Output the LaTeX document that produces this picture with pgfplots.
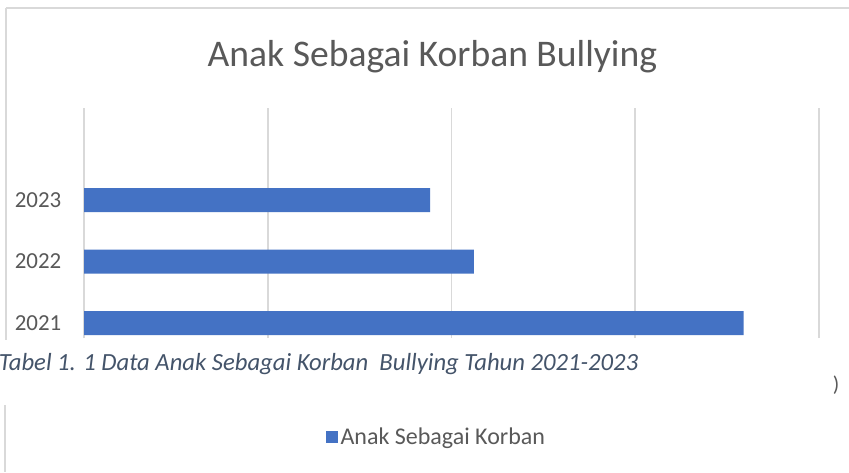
\documentclass[border=0pt]{standalone}
\usepackage{fontspec}
\setmainfont{Carlito}
\usepackage{pgfplots}
\pgfplotsset{compat=1.18}
\definecolor{barblue}{HTML}{4472C4}
\definecolor{gridgray}{HTML}{D9D9D9}
\definecolor{txtgray}{HTML}{595959}
\definecolor{capblue}{HTML}{44546A}
\begin{document}
\begin{tikzpicture}[x=1pt,y=1pt]
\path[use as bounding box] (0,0) rectangle (636.75,-354);
\fill[white] (0,0) rectangle (636.75,-354);
% chart frame remnants
\draw[gridgray,line width=1.2pt] (4.5,-6) -- (636.75,-6);
\draw[gridgray,line width=1.2pt] (4.5,-6) -- (4.5,-255);
\draw[gridgray,line width=1.2pt] (3.8,-304) -- (3.8,-354);
\begin{axis}[
  at={(63pt,-253.5pt)}, anchor=south west,
  scale only axis, width=551.25pt, height=172.5pt,
  xbar, bar width=18pt,
  xmin=0, xmax=200, xtick={0,50,100,150,200}, xticklabels={},
  ymin=-0.244, ymax=3.5,
  ytick={0,1,2}, yticklabels={2021,2022,2023},
  yticklabel style={font=\fontsize{17.2}{19}\selectfont, text=txtgray, xshift=-13.5pt},
  major tick length=0pt,
  axis line style={draw=none},
  xmajorgrids, grid style={gridgray, line width=1.3pt},
  legend style={at={(0.48,-0.43)}, anchor=center, draw=none, fill=none,
    font=\fontsize{18}{20}\selectfont, text=txtgray},
  legend image code/.code={\fill[barblue] (0pt,-4.5pt) rectangle (9pt,4.5pt);},
  title={Anak Sebagai Korban Bullying},
  title style={font=\fontsize{28.2}{32}\selectfont, text=txtgray, at={(0.474,1.0)}, anchor=south, yshift=16.5pt},
]
\addplot[fill=barblue, draw=none] coordinates {(179.5,0) (106.1,1) (94.2,2)};
\addlegendentry{Anak Sebagai Korban}
\end{axis}
\node[anchor=base west, inner sep=0pt, text=capblue, font=\fontsize{18.5}{20}\itshape\selectfont] at (-1,-278) {Tabel 1. 1 Data Anak Sebagai Korban \ Bullying Tahun 2021-2023};
\node[anchor=center, inner sep=0pt, text=txtgray, font=\fontsize{16}{18}\selectfont] at (627,-289) {)};
\end{tikzpicture}
\end{document}
